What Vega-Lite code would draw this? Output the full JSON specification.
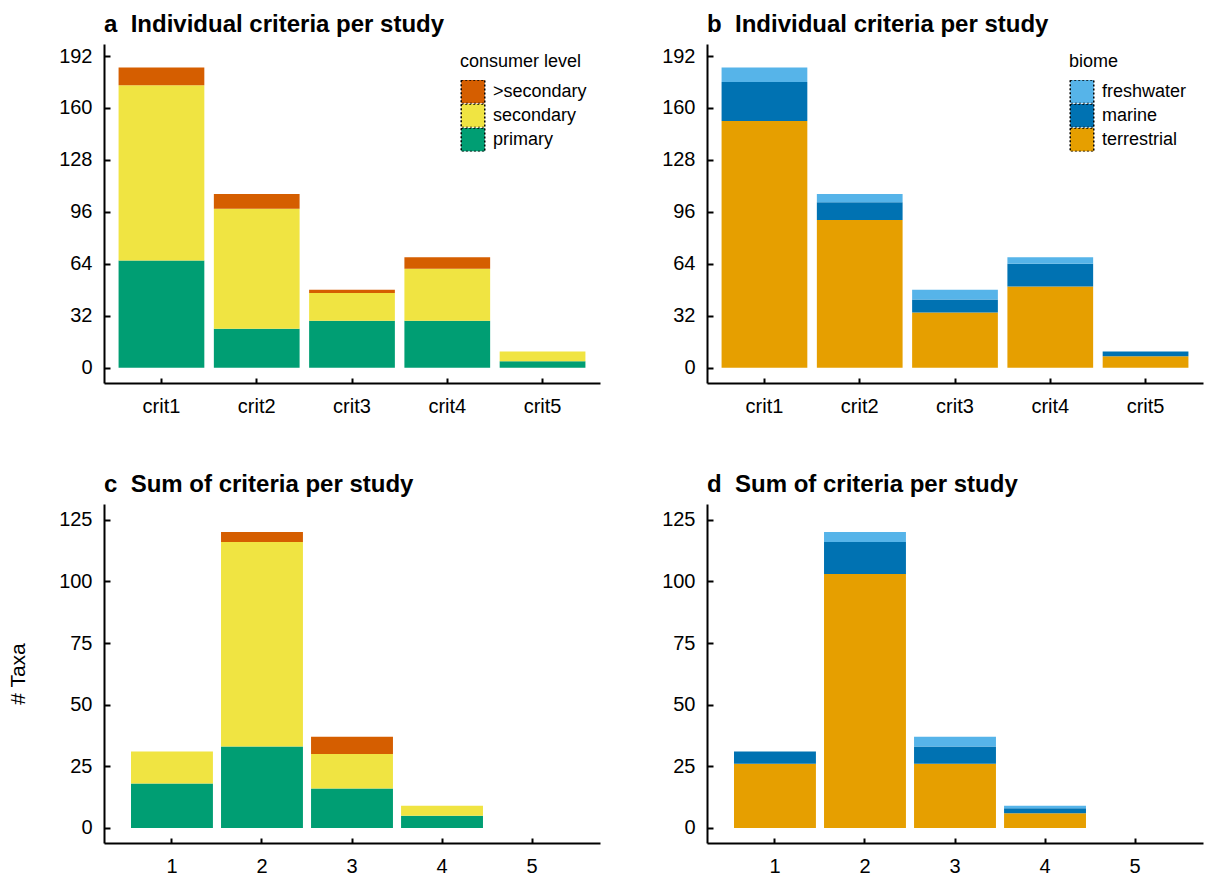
{
  "$schema": "https://vega.github.io/schema/vega-lite/v6.json",
  "padding": {"left": 7, "top": 13, "right": 5, "bottom": 5},
  "background": "white",
  "config": {
    "font": "Liberation Sans",
    "view": {"stroke": null},
    "axis": {
      "domainColor": "black", "domainWidth": 2, "tickColor": "black", "tickWidth": 2,
      "labelColor": "black", "labelFontSize": 20, "grid": false,
      "titleFontSize": 20, "titleFontWeight": "normal", "titleColor": "black"
    },
    "axisY": {"tickSize": -6, "labelPadding": 18},
    "axisX": {"tickSize": -5, "labelPadding": 18, "labelAngle": 0},
    "title": {"anchor": "start", "frame": "group", "fontSize": 24, "fontWeight": "bold", "color": "black", "offset": 7},
    "legend": {
      "orient": "none", "titleFontSize": 18, "titleFontWeight": "normal", "titleColor": "black",
      "labelFontSize": 18, "labelColor": "black", "symbolType": "square", "symbolSize": 556,
      "rowPadding": 0, "labelOffset": 7, "titlePadding": 9
    }
  },
  "datasets": {
    "a": [
      {"crit": "crit1", "level": "primary", "o": 1, "n": 66},
      {"crit": "crit1", "level": "secondary", "o": 2, "n": 108},
      {"crit": "crit1", "level": ">secondary", "o": 3, "n": 11},
      {"crit": "crit2", "level": "primary", "o": 1, "n": 24},
      {"crit": "crit2", "level": "secondary", "o": 2, "n": 74},
      {"crit": "crit2", "level": ">secondary", "o": 3, "n": 9},
      {"crit": "crit3", "level": "primary", "o": 1, "n": 29},
      {"crit": "crit3", "level": "secondary", "o": 2, "n": 17},
      {"crit": "crit3", "level": ">secondary", "o": 3, "n": 2},
      {"crit": "crit4", "level": "primary", "o": 1, "n": 29},
      {"crit": "crit4", "level": "secondary", "o": 2, "n": 32},
      {"crit": "crit4", "level": ">secondary", "o": 3, "n": 7},
      {"crit": "crit5", "level": "primary", "o": 1, "n": 4},
      {"crit": "crit5", "level": "secondary", "o": 2, "n": 6}
    ],
    "b": [
      {"crit": "crit1", "biome": "terrestrial", "o": 1, "n": 152},
      {"crit": "crit1", "biome": "marine", "o": 2, "n": 24},
      {"crit": "crit1", "biome": "freshwater", "o": 3, "n": 9},
      {"crit": "crit2", "biome": "terrestrial", "o": 1, "n": 91},
      {"crit": "crit2", "biome": "marine", "o": 2, "n": 11},
      {"crit": "crit2", "biome": "freshwater", "o": 3, "n": 5},
      {"crit": "crit3", "biome": "terrestrial", "o": 1, "n": 34},
      {"crit": "crit3", "biome": "marine", "o": 2, "n": 8},
      {"crit": "crit3", "biome": "freshwater", "o": 3, "n": 6},
      {"crit": "crit4", "biome": "terrestrial", "o": 1, "n": 50},
      {"crit": "crit4", "biome": "marine", "o": 2, "n": 14},
      {"crit": "crit4", "biome": "freshwater", "o": 3, "n": 4},
      {"crit": "crit5", "biome": "terrestrial", "o": 1, "n": 7},
      {"crit": "crit5", "biome": "marine", "o": 2, "n": 3}
    ],
    "c": [
      {"sum": "1", "level": "primary", "o": 1, "n": 18},
      {"sum": "1", "level": "secondary", "o": 2, "n": 13},
      {"sum": "2", "level": "primary", "o": 1, "n": 33},
      {"sum": "2", "level": "secondary", "o": 2, "n": 83},
      {"sum": "2", "level": ">secondary", "o": 3, "n": 4},
      {"sum": "3", "level": "primary", "o": 1, "n": 16},
      {"sum": "3", "level": "secondary", "o": 2, "n": 14},
      {"sum": "3", "level": ">secondary", "o": 3, "n": 7},
      {"sum": "4", "level": "primary", "o": 1, "n": 5},
      {"sum": "4", "level": "secondary", "o": 2, "n": 4}
    ],
    "d": [
      {"sum": "1", "biome": "terrestrial", "o": 1, "n": 26},
      {"sum": "1", "biome": "marine", "o": 2, "n": 5},
      {"sum": "2", "biome": "terrestrial", "o": 1, "n": 103},
      {"sum": "2", "biome": "marine", "o": 2, "n": 13},
      {"sum": "2", "biome": "freshwater", "o": 3, "n": 4},
      {"sum": "3", "biome": "terrestrial", "o": 1, "n": 26},
      {"sum": "3", "biome": "marine", "o": 2, "n": 7},
      {"sum": "3", "biome": "freshwater", "o": 3, "n": 4},
      {"sum": "4", "biome": "terrestrial", "o": 1, "n": 6},
      {"sum": "4", "biome": "marine", "o": 2, "n": 2},
      {"sum": "4", "biome": "freshwater", "o": 3, "n": 1}
    ]
  },
  "columns": 2,
  "bounds": "flush",
  "spacing": {"row": 121, "column": 107},
  "concat": [
    {
      "title": "a\u00a0\u00a0Individual criteria per study",
      "width": 496, "height": 339,
      "data": {"name": "a"},
      "mark": {"type": "bar"},
      "encoding": {
        "x": {"field": "crit", "type": "nominal", "scale": {"paddingInner": 0.1, "paddingOuter": 0.153}, "axis": {"title": null}},
        "y": {"field": "n", "type": "quantitative", "stack": "zero", "scale": {"domain": [-9.4, 199.4], "nice": false, "zero": false}, "axis": {"title": null, "values": [0, 32, 64, 96, 128, 160, 192]}},
        "color": {"field": "level", "type": "nominal",
          "scale": {"domain": [">secondary", "secondary", "primary"], "range": ["#D55E00", "#F0E442", "#009E73"]},
          "legend": {"title": "consumer level", "legendX": 356, "legendY": 9, "rowPadding": 0, "clipHeight": 23.6,
            "encode": {"symbols": {"update": {"stroke": {"value": "black"}, "strokeDash": {"value": [2, 2]}, "strokeWidth": {"value": 1.5}}}}}},
        "order": {"field": "o", "type": "quantitative"}
      }
    },
    {
      "title": "b\u00a0\u00a0Individual criteria per study",
      "width": 496, "height": 339,
      "data": {"name": "b"},
      "mark": {"type": "bar"},
      "encoding": {
        "x": {"field": "crit", "type": "nominal", "scale": {"paddingInner": 0.1, "paddingOuter": 0.153}, "axis": {"title": null}},
        "y": {"field": "n", "type": "quantitative", "stack": "zero", "scale": {"domain": [-9.4, 199.4], "nice": false, "zero": false}, "axis": {"title": null, "values": [0, 32, 64, 96, 128, 160, 192]}},
        "color": {"field": "biome", "type": "nominal",
          "scale": {"domain": ["freshwater", "marine", "terrestrial"], "range": ["#56B4E9", "#0072B2", "#E69F00"]},
          "legend": {"title": "biome", "legendX": 362, "legendY": 9, "rowPadding": 0, "clipHeight": 23.6,
            "encode": {"symbols": {"update": {"stroke": {"value": "black"}, "strokeDash": {"value": [2, 2]}, "strokeWidth": {"value": 1.5}}}}}},
        "order": {"field": "o", "type": "quantitative"}
      }
    },
    {
      "title": "c\u00a0\u00a0Sum of criteria per study",
      "width": 496, "height": 339,
      "data": {"name": "c"},
      "mark": {"type": "bar"},
      "encoding": {
        "x": {"field": "sum", "type": "ordinal", "scale": {"domain": ["1", "2", "3", "4", "5"], "paddingInner": 0.09, "paddingOuter": 0.3}, "axis": {"title": null}},
        "y": {"field": "n", "type": "quantitative", "stack": "zero", "scale": {"domain": [-6.1, 131.4], "nice": false, "zero": false}, "axis": {"title": "# Taxa", "titleFontSize": 21, "titlePadding": 30, "values": [0, 25, 50, 75, 100, 125]}},
        "color": {"field": "level", "type": "nominal",
          "scale": {"domain": [">secondary", "secondary", "primary"], "range": ["#D55E00", "#F0E442", "#009E73"]},
          "legend": null},
        "order": {"field": "o", "type": "quantitative"}
      }
    },
    {
      "title": "d\u00a0\u00a0Sum of criteria per study",
      "width": 496, "height": 339,
      "data": {"name": "d"},
      "mark": {"type": "bar"},
      "encoding": {
        "x": {"field": "sum", "type": "ordinal", "scale": {"domain": ["1", "2", "3", "4", "5"], "paddingInner": 0.09, "paddingOuter": 0.3}, "axis": {"title": null}},
        "y": {"field": "n", "type": "quantitative", "stack": "zero", "scale": {"domain": [-6.1, 131.4], "nice": false, "zero": false}, "axis": {"title": null, "values": [0, 25, 50, 75, 100, 125]}},
        "color": {"field": "biome", "type": "nominal",
          "scale": {"domain": ["freshwater", "marine", "terrestrial"], "range": ["#56B4E9", "#0072B2", "#E69F00"]},
          "legend": null},
        "order": {"field": "o", "type": "quantitative"}
      }
    }
  ],
  "resolve": {"scale": {"color": "independent", "x": "independent", "y": "independent"}}
}
